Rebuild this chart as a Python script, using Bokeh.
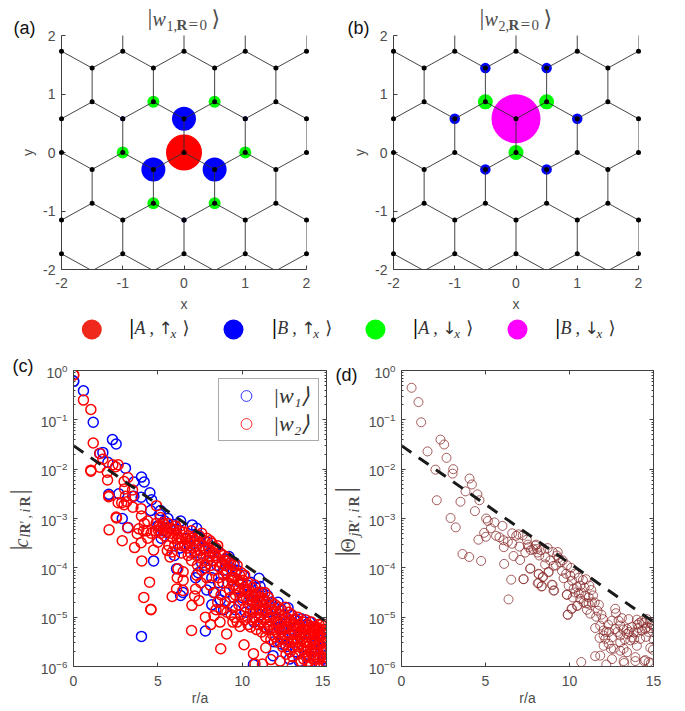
import math
from bokeh.plotting import figure
from bokeh.layouts import column, row
from bokeh.models import (LinearAxis, LogAxis, FixedTicker, LogTicker, Legend, LegendItem, CustomJSTickFormatter)
from bokeh.core.properties import value
from bokeh.embed import file_html
from bokeh.resources import INLINE

# ---------- data: panels (a), (b) ----------
S = 0.866
T = 0.577
H = 0.289
a_red_x, a_red_y, a_red_d = [0], [0], [36]
a_blue_x = [0, -0.5, 0.5, -1, 1, 0]
a_blue_y = [T, -H, -H, T, T, -2 * T]
a_blue_d = [24, 24, 24, 5, 5, 5]
a_green_x = [-0.5, 0.5, -1, 1, -0.5, 0.5]
a_green_y = [S, S, 0, 0, -S, -S]
a_green_d = [12, 12, 12, 12, 12, 12]
b_mag_x, b_mag_y, b_mag_d = [0], [T], [49]
b_green_x = [-0.5, 0.5, 0]
b_green_y = [S, S, 0]
b_green_d = [15, 15, 15]
b_blue_x = [-0.5, 0.5, -1, 1, -0.5, 0.5]
b_blue_y = [2.5 * T, 2.5 * T, T, T, -H, -H]
b_blue_d = [10.5] * 6

# ---------- data: panel (c): (r/a, log10 |c|) ----------
w1_points = [
 (0.02,-0.22),(0.59,-0.41),(1.17,-1.05),(1.56,-1.68),(1.74,-1.66),(2.04,-1.86),(2.31,-1.40),(2.53,-1.49),
 (3.08,-1.98),(2.09,-2.51),(2.69,-2.50),(3.58,-2.26),(4.03,-2.16),(4.19,-2.26),(4.01,-2.57),(4.53,-2.48),
 (4.63,-2.62),(3.58,-2.55),(4.57,-2.84),(5.16,-2.84),(5.12,-2.92),(2.89,-3.0),(3.22,-3.18),(4.03,-5.39),
 (4.75,-3.86),(5.4,-3.05),(5.6,-3.0),(5.0,-3.15),(5.3,-3.25),(5.7,-3.2),(5.2,-3.4),(5.9,-3.12),(6.1,-3.22),
 (6.35,-3.05),(6.11,-4.02),(6.35,-4.56),(6.49,-4.50),(7.24,-4.2),(5.98,-3.75),(6.3,-3.6),(6.7,-3.4),
 (7.04,-3.13),(7.3,-3.2),(7.5,-3.38),(7.94,-3.48),(7.7,-3.6),(7.2,-3.7),(6.9,-3.55),(7.6,-3.9),(7.4,-4.1),
 (7.8,-4.0),(8.1,-3.7),(8.4,-3.62),(8.73,-3.72),(9.0,-3.82),(9.22,-3.77),(8.5,-3.95),(8.2,-4.2),(7.82,-5.28),
 (7.9,-4.45),(8.3,-4.5),(8.6,-4.3),(8.9,-4.05),(9.3,-4.0),(9.52,-3.89),(9.7,-4.05),(9.4,-4.25),(9.0,-4.5),
 (8.7,-4.65),(8.2,-4.75),(8.9,-4.85),(9.5,-4.6),(9.9,-4.3),(10.11,-4.16),(10.3,-4.35),(10.5,-4.29),(10.0,-4.6),
 (9.6,-4.85),(10.4,-4.55),(10.8,-4.4),(11.0,-4.21),(11.06,-4.38),(11.2,-4.5),(10.6,-4.7),(10.2,-4.9),(10.9,-4.75),
 (11.3,-4.65),(11.5,-4.56),(11.7,-4.7),(11.1,-4.95),(10.7,-5.1),(11.5,-4.9),(11.9,-4.8),(12.13,-4.70),(12.3,-4.85),
 (12.72,-4.81),(12.5,-4.95),(12.0,-5.05),(11.6,-5.2),(12.2,-5.2),(12.6,-5.1),(12.9,-4.95),(13.1,-5.05),(13.5,-5.03),
 (13.3,-5.2),(12.9,-5.25),(12.4,-5.4),(12.29,-5.54),(11.83,-5.78),(11.9,-5.5),(10.67,-5.96),(12.6,-5.6),(13.0,-5.45),
 (13.4,-5.4),(13.8,-5.15),(14.0,-5.1),(14.37,-5.24),(14.1,-5.35),(13.7,-5.5),(13.2,-5.7),(12.8,-5.85),(13.4,-5.9),
 (13.9,-5.75),(14.3,-5.55),(14.6,-5.35),(14.8,-5.25),(15.0,-5.46),(15.0,-5.68),(14.7,-5.6),(14.4,-5.8),(14.0,-5.95),
 (14.8,-5.85),(15.0,-5.9),(14.5,-5.45),
]
w2_points = [
 (0.02,-0.09),(0.59,-0.60),(1.03,-0.79),(1.17,-1.47),(1.56,-1.68),(1.74,-1.80),(1.03,-2.04),(1.03,-2.02),(1.56,-1.96),
 (2.0,-2.06),(2.02,-2.22),(2.33,-1.91),(2.65,-1.91),(2.5,-1.95),(3.22,-2.17),(3.0,-2.25),(3.03,-2.4),(3.5,-2.42),
 (3.5,-2.55),(2.09,-2.54),(2.09,-2.56),(3.08,-2.55),(2.65,-2.68),(3.15,-2.66),(3.52,-2.77),(4.01,-2.8),(2.53,-2.97),
 (3.0,-2.72),(4.03,-2.95),(2.86,-2.68),(4.92,-2.74),(5.15,-2.98),(2.11,-3.23),(2.55,-2.99),(2.89,-3.45),(3.22,-3.19),
 (3.62,-3.59),(3.88,-3.21),(3.78,-3.31),(4.01,-3.49),(4.05,-3.86),(4.2,-3.1),(4.4,-3.05),(4.35,-3.25),(4.15,-3.25),
 (4.75,-3.64),(4.51,-4.29),(4.17,-4.6),(4.59,-4.84),(4.59,-4.85),(4.4,-3.4),(4.6,-3.3),(4.9,-3.1),(4.85,-3.25),
 (5.1,-3.15),(5.3,-3.08),(5.2,-3.3),(5.5,-3.18),(5.6,-3.1),(5.75,-3.2),(5.4,-3.35),(5.0,-3.48),(5.56,-3.65),(5.72,-3.78),
 (5.85,-3.68),(5.65,-3.55),(5.9,-3.4),(6.1,-3.3),(6.3,-3.25),(6.0,-3.55),(6.2,-3.5),(6.4,-3.4),(5.85,-4.58),(6.11,-4.43),
 (6.49,-4.46),(6.15,-4.2),(6.19,-4.02),(6.5,-4.08),(6.5,-4.25),(6.4,-3.7),(6.6,-3.55),(6.8,-3.35),(6.9,-3.45),(7.0,-3.25),
 (7.2,-3.35),(7.1,-3.6),(6.8,-3.75),(7.0,-3.85),(7.3,-3.75),(7.4,-3.5),(7.6,-3.3),(7.75,-3.45),(7.5,-3.65),(7.7,-3.75),
 (7.02,-4.76),(7.0,-5.27),(7.24,-4.43),(7.18,-4.57),(7.44,-4.66),(7.3,-4.15),(7.55,-4.3),(7.6,-4.05),(7.8,-3.95),(8.0,-3.6),
 (8.2,-3.5),(7.95,-3.85),(8.15,-3.95),(7.9,-4.2),(8.1,-4.35),(7.82,-5.0),(8.13,-5.15),(8.33,-4.97),(8.69,-5.10),(8.73,-5.64),
 (9.08,-5.34),(9.87,-5.19),(10.11,-5.56),(10.67,-5.74),(10.76,-5.95),(11.2,-5.95),(11.4,-5.62),(11.7,-5.86),(12.25,-5.89),
 (12.98,-5.98),(8.3,-3.7),(8.5,-3.8),(8.35,-4.05),(8.6,-4.2),(8.35,-4.5),(8.55,-4.7),(8.75,-4.55),(8.8,-3.9),(9.0,-3.95),
 (9.2,-3.85),(8.9,-4.15),(9.15,-4.3),(9.0,-4.7),(9.3,-4.6),(9.1,-4.9),(9.4,-4.05),(9.6,-4.1),(9.5,-4.35),(9.75,-4.25),
 (9.6,-4.55),(9.8,-4.75),(9.4,-4.8),(9.55,-5.0),(9.95,-4.1),(10.1,-4.4),(10.3,-4.5),(10.0,-4.65),(10.2,-4.8),(10.4,-4.65),
 (9.9,-4.95),(10.3,-5.0),(10.5,-4.85),(10.7,-4.6),(10.6,-4.4),(10.8,-4.55),(10.9,-4.7),(10.75,-5.0),(10.95,-5.15),(10.5,-5.2),
 (11.1,-4.7),(11.2,-4.85),(11.4,-4.7),(11.0,-5.0),(11.3,-5.05),(11.5,-4.95),(11.15,-5.3),(11.4,-5.4),(11.6,-5.15),(11.7,-4.85),
 (11.85,-5.0),(12.0,-4.9),(12.2,-4.95),(12.1,-5.1),(11.9,-5.25),(12.3,-5.3),(12.45,-5.1),(12.6,-5.0),(12.5,-5.25),(12.75,-5.2),
 (12.1,-5.5),(12.4,-5.6),(12.7,-5.5),(12.9,-5.1),(13.05,-5.3),(13.2,-5.05),(13.35,-5.15),(13.0,-5.6),(13.25,-5.45),(13.5,-5.3),
 (13.6,-5.1),(13.7,-5.25),(13.45,-5.55),(13.8,-5.4),(13.9,-5.15),(14.05,-5.2),(14.2,-5.3),(14.0,-5.5),(14.3,-5.2),(14.45,-5.35),
 (14.2,-5.55),(13.7,-5.7),(13.95,-5.8),(14.4,-5.65),(14.6,-5.25),(14.75,-5.4),(14.6,-5.55),(14.85,-5.5),(15.0,-5.3),(14.95,-5.45),
 (14.7,-5.7),(15.0,-5.65),(14.9,-5.8),(14.55,-5.85),(14.3,-5.85),(14.1,-5.95),(14.7,-5.97),(15.0,-6.0),(13.0,-5.8),(13.3,-5.75),
 (13.5,-5.9),(14.85,-5.95),(5.2,-3.18),(5.45,-3.22),(5.8,-3.3),(6.05,-3.15),(6.25,-3.38),(6.55,-3.28),(6.75,-3.6),(6.95,-3.7),
 (7.15,-3.45),(7.35,-3.95),(7.65,-3.55),(7.85,-3.62),(8.05,-3.78),(8.25,-3.85),(8.45,-3.6),(8.65,-3.98),(8.85,-4.3),(9.05,-4.1),
 (9.25,-4.45),(9.45,-4.2),(9.65,-4.4),(9.85,-4.5),(9.35,-4.95),(8.75,-4.85),(8.45,-4.85),(10.05,-4.25),(10.25,-4.6),(10.45,-4.75),
 (10.65,-4.9),(10.85,-4.85),(11.05,-4.6),(11.25,-4.75),(11.45,-5.1),(11.65,-5.0),(11.8,-5.35),(12.05,-5.3),(12.25,-5.05),(12.55,-5.4),
 (12.8,-5.35),(12.95,-5.5),(13.15,-5.3),(13.35,-5.6),(13.55,-5.45),(13.75,-5.05),(13.95,-5.35),(14.15,-5.45),(14.35,-5.45),(14.55,-5.15),
 (14.75,-5.25),(14.9,-5.65),(14.65,-5.8),(14.45,-5.95),(14.05,-5.65),(13.85,-5.6),(13.65,-5.85),(13.15,-5.55),(12.85,-5.7),(12.6,-5.75),
 (5.05,-3.25),(5.35,-3.12),(5.55,-3.28),(5.95,-3.22),(6.15,-3.42),(6.35,-3.15),(6.45,-3.55),(6.65,-3.42),(6.85,-3.5),(7.05,-3.4),
 (7.25,-3.55),(7.45,-3.35),(7.55,-3.8),(7.9,-3.4),(8.1,-3.45),(8.25,-3.6),(8.4,-3.75),(8.55,-3.55),(8.7,-3.7),(8.9,-3.75),
 (9.1,-3.78),(9.3,-3.9),(9.5,-3.95),(9.7,-3.95),(9.85,-4.15),(8.95,-3.85),(9.1,-4.05),(9.35,-4.2),(9.55,-4.2),(9.75,-4.45),
 (9.95,-4.3),(10.15,-4.15),(10.35,-4.3),(10.55,-4.55),(10.75,-4.35),(10.95,-4.5),(11.15,-4.5),(11.35,-4.5),(11.55,-4.6),(11.75,-4.7),
 (11.95,-4.75),(12.15,-4.8),(12.35,-4.85),(12.55,-4.8),(12.75,-4.9),(12.95,-4.95),(13.1,-5.15),(13.3,-5.0),(13.45,-5.2),(13.65,-5.35),
 (13.85,-5.25),(14.1,-5.1),(14.25,-5.4),(14.5,-5.25),(14.7,-5.15),(14.95,-5.15),(10.2,-4.45),(10.4,-4.45),(10.6,-4.65),(10.8,-4.75),
 (11.0,-4.85),(11.2,-4.62),(11.4,-4.85),(11.6,-4.75),(11.8,-4.85),(12.0,-5.1),(12.2,-5.15),(12.4,-5.25),(12.6,-5.2),(12.8,-5.05),
 (13.0,-5.2),(13.2,-5.2),(13.4,-5.35),(13.6,-5.25),(13.8,-5.5),(14.0,-5.35),(14.2,-5.2),(14.4,-5.2),(14.6,-5.4),(14.8,-5.35),
 (15.0,-5.5),(11.5,-5.25),(11.7,-5.45),(11.95,-5.4),(12.15,-5.35),(12.35,-5.45),(12.55,-5.55),(12.75,-5.65),(13.1,-5.45),(13.3,-5.5),
 (13.6,-5.65),(13.8,-5.8),(14.1,-5.7),(14.3,-5.65),(14.5,-5.65),(14.8,-5.65),(14.95,-5.9),(13.9,-5.9),(14.2,-5.85),(10.85,-5.25),
 (11.1,-5.1),(11.3,-5.2),(10.6,-5.05),(10.35,-5.15),(10.15,-5.05),(9.7,-5.1),(9.45,-5.1),
]

# ---------- data: panel (d): (r/a, log10 |Theta|) ----------
theta_points = [
 (0.6,-0.35),(1.01,-0.64),(1.17,-1.05),(1.55,-1.64),(2.32,-1.40),(2.54,-1.50),(2.68,-1.77),(2.02,-2.01),(3.08,-2.0),(3.04,-2.09),
 (4.05,-2.19),(4.19,-2.31),(3.81,-2.45),(2.10,-2.63),(3.51,-2.66),(4.52,-2.51),(4.64,-2.63),(4.37,-2.85),(2.92,-2.99),(3.23,-3.18),
 (3.63,-3.72),(4.03,-3.78),(4.74,-3.86),(5.04,-3.0),(5.14,-3.05),(5.54,-3.08),(6.01,-3.15),(5.32,-3.2),(4.92,-3.29),(5.02,-3.37),
 (4.58,-3.43),(5.63,-3.35),(5.83,-3.38),(6.07,-3.44),(6.09,-3.58),(6.33,-3.47),(6.59,-3.30),(6.59,-3.51),(6.83,-3.35),(6.96,-3.32),
 (7.22,-3.34),(7.02,-3.57),(6.67,-3.76),(7.06,-3.84),(6.11,-3.92),(6.53,-4.24),(6.37,-4.64),(7.26,-4.23),(7.66,-4.02),(7.46,-3.43),
 (7.52,-3.53),(7.70,-3.64),(8.02,-3.53),(8.06,-3.62),(8.17,-4.13),(8.41,-4.18),(8.11,-4.31),(8.33,-4.38),(8.75,-4.08),(8.99,-4.35),
 (9.09,-4.46),(9.84,-4.54),(10.12,-4.83),(9.9,-4.95),(10.48,-4.77),(7.37,-3.69),(7.57,-3.58),(7.96,-3.55),(8.1,-3.69),(8.56,-3.79),
 (8.86,-3.85),(9.25,-3.75),(9.05,-3.96),(9.45,-3.89),(9.55,-4.06),(9.65,-4.21),(10.05,-4.16),(9.95,-4.36),(10.15,-4.26),(10.44,-4.39),
 (10.64,-4.36),(10.34,-4.5),(10.98,-4.23),(11.18,-4.36),(9.85,-4.55),(9.05,-4.46),(8.95,-4.34),(8.36,-4.37),(8.16,-4.31),(8.42,-4.19),
 (8.16,-4.12),(8.76,-4.09),(7.67,-4.01),(7.27,-4.23),(10.64,-4.63),(10.94,-4.56),(11.14,-4.6),(11.4,-4.56),(10.84,-4.7),(11.14,-4.73),
 (11.34,-4.7),(10.44,-4.77),(10.15,-4.83),(9.89,-4.95),(11.04,-4.85),(11.24,-4.93),(11.67,-4.87),(11.59,-4.99),(11.99,-5.04),(11.83,-5.17),
 (11.53,-5.22),(12.03,-5.27),(11.79,-5.42),(12.13,-5.44),(12.03,-5.58),(12.33,-5.54),(12.47,-5.64),(12.72,-4.83),(12.76,-4.92),(12.53,-5.07),
 (12.92,-5.07),(13.12,-5.02),(13.52,-5.04),(13.02,-5.17),(14.01,-5.05),(14.31,-5.08),(14.61,-5.04),(14.77,-5.1),(15.0,-5.19),(14.81,-5.22),
 (14.51,-5.24),(14.11,-5.22),(13.72,-5.2),(13.42,-5.24),(12.72,-5.24),(12.53,-5.41),(13.02,-5.37),(13.42,-5.34),(13.72,-5.41),(14.01,-5.31),
 (14.21,-5.44),(13.62,-5.47),(13.02,-5.51),(12.63,-5.64),(13.22,-5.64),(13.42,-5.71),(14.01,-5.58),(15.0,-5.45),(14.81,-5.62),(14.97,-5.66),
 (12.53,-5.85),(11.53,-5.79),(11.83,-5.78),(10.7,-5.91),(12.19,-5.96),(13.22,-5.89),(13.26,-5.93),(13.92,-5.81),(13.92,-5.89),(14.51,-5.87),
 (14.45,-5.89),(14.85,-5.93),(14.71,-5.91),(13.02,-5.68),(12.03,-5.37),(13.82,-5.31),(14.31,-5.27),(14.6,-5.2),(14.15,-5.12),(12.3,-5.15),
 (7.85,-3.62),(8.3,-3.64),(8.55,-3.93),(9.2,-3.95),(9.35,-3.8),(9.8,-4.12),(10.25,-4.42),(10.55,-4.52),(11.0,-4.72),(12.2,-5.3),
 (8.2,-3.75),(8.7,-3.6),(9.0,-3.68),(9.3,-3.68),(9.6,-3.85),(9.85,-3.95),(10.1,-4.0),(10.3,-4.12),(10.55,-4.2),(10.8,-4.25),
 (10.2,-4.6),(10.7,-4.5),(10.9,-4.4),(11.3,-4.45),(11.5,-4.7),(11.75,-4.75),(11.9,-4.95),(12.35,-5.3),(12.85,-5.3),(13.2,-5.25),
 (13.3,-5.45),(13.55,-5.3),(13.85,-5.45),(14.05,-5.15),(14.4,-5.12),(14.7,-5.3),(14.9,-5.15),(14.55,-5.4),
]
dash_r = [0, 15]
dash_v = [0.03, 8e-6]

# ---------- drawing helpers ----------
SANS = "Liberation Sans"
SERIF = "Liberation Serif"
GRAY = "#4d4d4d"
AX = "#404040"
BASE_SHIFT = 0.42  # text glyphs sit this fraction of their size below the asked baseline

def put(p, mapper, xp, yp, text, size, color=GRAY, font=SERIF, style="normal", angle=0.0):
    """Text placed by page pixel; mapper turns page pixels into the panel's data coordinates."""
    if angle:
        xp -= BASE_SHIFT * size
    else:
        yp -= BASE_SHIFT * size
    x, y = mapper(xp, yp)
    p.text(x=[x], y=[y], text=[text], text_font=value(font), text_font_size=value(f"{size}px"),
           text_font_style=style, text_color=color, text_align="left", text_baseline="alphabetic",
           angle=angle, level="annotation")

def linear_map(left, right, top, bottom, x0, x1, y0, y1):
    return lambda xp, yp: (x0 + (xp - left) / (right - left) * (x1 - x0),
                           y1 - (yp - top) / (bottom - top) * (y1 - y0))

def log_map(left, right):
    return lambda xp, yp: ((xp - left) / (right - left) * 15, 10 ** (-(yp - 370) / 296 * 6))

def style_axis(ax, size="14px"):
    ax.axis_line_color = AX
    ax.axis_line_width = 1
    ax.major_tick_line_color = AX
    ax.minor_tick_line_color = AX
    ax.major_tick_out = 0
    ax.major_tick_in = 4
    ax.minor_tick_out = 0
    ax.minor_tick_in = 2
    ax.major_label_text_color = GRAY
    ax.major_label_text_font = SANS
    ax.major_label_text_font_size = size
    ax.axis_label_text_color = GRAY
    ax.axis_label_text_font = SANS
    ax.axis_label_text_font_size = "14px"
    ax.axis_label_text_font_style = "normal"

# honeycomb lattice generated from its basis
ax_list, ay_list = [], []
for n in range(-6, 7):
    for m in range(-4, 5):
        ax_list.append(n + 0.5 * m)
        ay_list.append(m * S * 1.0)

def honeycomb(p):
    xs, ys, dx, dy = [], [], [], []
    bonds = [(0, T), (0.5, -H), (-0.5, -H)]
    for x, y in zip(ax_list, ay_list):
        if abs(x) > 3.5 or abs(y) > 3.2:
            continue
        for bx, by in bonds:
            xs.append([x, x + bx])
            ys.append([y, y + by])
        for sx, sy in ((x, y), (x, y + T)):
            if abs(sx) <= 2.001 and abs(sy) <= 2.001:
                dx.append(sx)
                dy.append(sy)
    p.multi_line(xs, ys, line_color="#303030", line_width=0.9)
    p.scatter(dx, dy, size=5, fill_color="black", line_color=None, level="annotation")

def lattice_panel(width, left, right):
    p = figure(width=width, height=314, x_range=(-2, 2), y_range=(-2, 2), output_backend="svg",
               toolbar_location=None, min_border_left=left, min_border_right=right, min_border_top=35,
               min_border_bottom=44, outline_line_color=None, border_fill_color=None)
    p.grid.visible = False
    for ax in (p.xaxis[0], p.yaxis[0]):
        style_axis(ax)
        ax.ticker = FixedTicker(ticks=[-2, -1, 0, 1, 2])
        ax.major_label_overrides = {-2: "-2", -1: "-1", 0: "0", 1: "1", 2: "2"}
        ax.minor_tick_in = 0
    p.xaxis.axis_label = "x"
    p.yaxis.axis_label = "y"
    p.xaxis.major_label_standoff = 8
    p.xaxis.axis_label_standoff = 5
    p.yaxis.major_label_standoff = 6
    p.yaxis.axis_label_standoff = 4
    return p

def title_parts(p, m, x0, n):
    put(p, m, x0, 27, "|", 24)
    put(p, m, x0 + 5, 27, "w", 20, style="italic")
    put(p, m, x0 + 19, 31, n, 14)
    put(p, m, x0 + 26, 31, ",", 14)
    put(p, m, x0 + 29, 31, "R", 15, style="bold")
    put(p, m, x0 + 41, 31, "=", 17)
    put(p, m, x0 + 52, 31, "0", 15)
    put(p, m, x0 + 64, 27, "⟩", 22, font="DejaVu Serif")

# ---------- panel (a) ----------
pa = lattice_panel(340, 61, 34)
mapA = linear_map(61, 306, 35, 270, -2, 2, -2, 2)
pa.scatter(a_red_x, a_red_y, size=a_red_d, fill_color="#ff0000", line_color=None)
pa.scatter(a_blue_x, a_blue_y, size=a_blue_d, fill_color="#0000ff", line_color=None)
pa.scatter(a_green_x, a_green_y, size=a_green_d, fill_color="#00ff00", line_color=None)
honeycomb(pa)
put(pa, mapA, 13, 35, "(a)", 18, color="#111111", font=SANS)
title_parts(pa, mapA, 147, "1")

# ---------- panel (b) ----------
pb = lattice_panel(328, 53, 30)
mapB = linear_map(393, 638, 35, 270, -2, 2, -2, 2)
pb.scatter(b_mag_x, b_mag_y, size=b_mag_d, fill_color="#ff00ff", line_color=None)
pb.scatter(b_blue_x, b_blue_y, size=b_blue_d, fill_color="#0000ff", line_color=None)
pb.scatter(b_green_x, b_green_y, size=b_green_d, fill_color="#00ff00", line_color=None)
honeycomb(pb)
put(pb, mapB, 347, 35, "(b)", 18, color="#111111", font=SANS)
title_parts(pb, mapB, 479, "2")

# ---------- state legend row ----------
state_x = [91.3, 233, 375, 517]
state_colors = ["#f0281b", "#0000ff", "#00ff00", "#ff00ff"]
state_bar = [129, 271.7, 412.7, 555]
state_letters = ["A", "B", "A", "B"]
state_arrows = ["↑", "↑", "↓", "↓"]
pl = figure(width=668, height=36, x_range=(0, 668), y_range=(350, 314), output_backend="svg", toolbar_location=None,
            x_axis_location=None, y_axis_location=None, min_border=0, outline_line_color=None, border_fill_color=None)
pl.grid.visible = False
pl.scatter(state_x, [329] * 4, size=20, fill_color=state_colors, line_color=None)
mapL = lambda xp, yp: (xp, yp)
for b, l, a in zip(state_bar, state_letters, state_arrows):
    put(pl, mapL, b, 335, "|", 20, color="#000000", style="bold")
    put(pl, mapL, b + 5, 335, l, 18, color="#333333", style="italic")
    put(pl, mapL, b + 20, 335, ",", 18, color="#333333")
    put(pl, mapL, b + 29, 335, a, 17, color="#333333", font="DejaVu Sans")
    put(pl, mapL, b + 41, 338, "x", 13, color="#333333", style="italic")
    put(pl, mapL, b + 53, 335, "⟩", 18, color="#333333", font="DejaVu Serif")

# ---------- log panels ----------
BLANK = CustomJSTickFormatter(code="return ''")

def log_panel(width, left, right):
    p = figure(width=width, height=360, x_range=(0, 15), y_range=(1e-6, 1), y_axis_type="log", output_backend="svg",
               toolbar_location=None, min_border_left=left, min_border_right=right, min_border_top=20,
               min_border_bottom=44, outline_line_color=None, border_fill_color=None)
    p.grid.visible = False
    xt = FixedTicker(ticks=[0, 5, 10, 15])
    style_axis(p.xaxis[0])
    style_axis(p.yaxis[0])
    p.xaxis.ticker = xt
    p.xaxis.minor_tick_in = 0
    p.yaxis.ticker = LogTicker(num_minor_ticks=10)
    p.xaxis.axis_label = "r/a"
    p.xaxis.major_label_standoff = 9
    p.xaxis.axis_label_standoff = 1
    p.yaxis.major_label_standoff = 6
    top = LinearAxis(ticker=xt, formatter=BLANK)
    style_axis(top, "1px")
    top.minor_tick_in = 0
    top.major_label_standoff = 0
    p.add_layout(top, "above")
    rgt = LogAxis(ticker=LogTicker(num_minor_ticks=10), formatter=BLANK)
    style_axis(rgt, "1px")
    rgt.major_label_standoff = 0
    p.add_layout(rgt, "right")
    return p

# ---------- panel (c) ----------
pc = log_panel(330, 73, 4)
mapC = log_map(73, 326)
w1_r = [q[0] for q in w1_points]
w1_v = [10 ** q[1] for q in w1_points]
w2_r = [q[0] for q in w2_points]
w2_v = [10 ** q[1] for q in w2_points]
pc.scatter(w1_r, w1_v, size=10, fill_color=None, line_color="#0000ff", line_width=1.5)
pc.scatter(w2_r, w2_v, size=10, fill_color=None, line_color="#ff0000", line_width=1.5)
pc.line(dash_r, dash_v, line_color="#1a1a1a", line_width=3, line_dash="12 9")
leg1 = pc.scatter(w1_r[:1], w1_v[:1], size=9, fill_color=None, line_color="#0000ff", line_width=0.8)
leg2 = pc.scatter(w2_r[:1], w2_v[:1], size=9, fill_color=None, line_color="#ff0000", line_width=0.8)
legend = Legend(items=[LegendItem(label=value("|w₁⟩"), renderers=[leg1]),
                       LegendItem(label=value("|w₂⟩"), renderers=[leg2])],
                location=(145, 225), orientation="vertical", padding=3, spacing=1, margin=0,
                glyph_width=48, glyph_height=27, label_height=27, label_width=42, label_standoff=3,
                label_text_font=SERIF, label_text_font_style="italic", label_text_font_size="22px",
                label_text_color="#333333", label_text_baseline="middle",
                border_line_color="#555555", border_line_width=1.5, background_fill_color="white",
                background_fill_alpha=1)
pc.add_layout(legend)
put(pc, mapC, 12, 373, "(c)", 18, color="#111111", font=SANS)
UP = math.pi / 2
put(pc, mapC, 29, 550, "|", 26, angle=UP)
put(pc, mapC, 29, 547, "c", 20, style="italic", angle=UP)
put(pc, mapC, 31, 537, "l", 14, style="italic", angle=UP)
put(pc, mapC, 31, 533, "R", 14, style="bold", angle=UP)
put(pc, mapC, 31, 523, "′", 14, angle=UP)
put(pc, mapC, 31, 518, ",", 14, angle=UP)
put(pc, mapC, 31, 512, "i", 14, style="italic", angle=UP)
put(pc, mapC, 31, 506, "R", 14, style="bold", angle=UP)
put(pc, mapC, 29, 494, "|", 26, angle=UP)

# ---------- panel (d) ----------
pd_ = log_panel(338, 71, 15)
mapD = log_map(401, 653)
th_r = [q[0] for q in theta_points]
th_v = [10 ** q[1] for q in theta_points]
pd_.scatter(th_r, th_v, size=9, fill_color=None, line_color="#8a2c2c", line_width=0.9, line_alpha=0.85)
pd_.line(dash_r, dash_v, line_color="#1a1a1a", line_width=3, line_dash="12 9")
put(pd_, mapD, 335, 382, "(d)", 18, color="#111111", font=SANS)
put(pd_, mapD, 356, 556, "|", 28, angle=UP)
put(pd_, mapD, 356, 552, "Θ", 20, angle=UP)
put(pd_, mapD, 360, 536, "j", 14, style="italic", angle=UP)
put(pd_, mapD, 360, 532, "R", 14, style="bold", angle=UP)
put(pd_, mapD, 360, 522, "′", 14, angle=UP)
put(pd_, mapD, 360, 518, ",", 14, angle=UP)
put(pd_, mapD, 360, 512, "i", 14, style="italic", angle=UP)
put(pd_, mapD, 360, 506, "R", 14, style="bold", angle=UP)
put(pd_, mapD, 356, 492, "|", 28, angle=UP)

page = column(row(pa, pb, spacing=0), pl, row(pc, pd_, spacing=0), spacing=0, margin=(0, 0, 0, 0))
open("out.html", "w").write(file_html(page, INLINE))
